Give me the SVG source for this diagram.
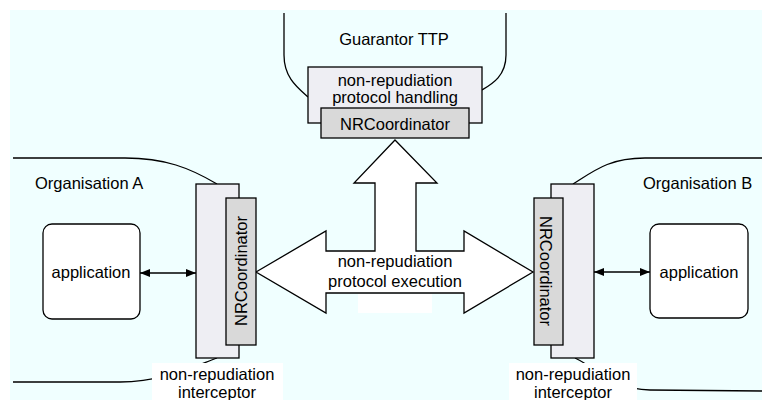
<svg xmlns="http://www.w3.org/2000/svg" width="762" height="400" viewBox="0 0 762 400">
  <defs>
    <style>
      text { font-family: "Liberation Sans", Arial, sans-serif; font-size: 16.5px; fill: #000; }
      .mid { text-anchor: middle; }
      .outline { fill: none; stroke: #000; stroke-width: 1.3; }
      .interceptor { fill: #eeeef3; stroke: #000; stroke-width: 1.3; }
      .coord { fill: #d9d9d9; stroke: #000; stroke-width: 1.3; }
      .app { fill: #fff; stroke: #000; stroke-width: 1.3; }
      .link { fill: none; stroke: #000; stroke-width: 1.3; marker-start: url(#head); marker-end: url(#head); }
      .label-bg { fill: #fff; stroke: none; }
    </style>
    <marker id="head" viewBox="0 0 10 8" refX="10" refY="4" markerWidth="10" markerHeight="8" markerUnits="userSpaceOnUse" orient="auto-start-reverse">
      <path d="M0,0 L10,4 L0,8 z" fill="#000"/>
    </marker>
  </defs>

  <!-- canvas -->
  <rect x="0" y="0" width="762" height="400" fill="#fff"/>
  <rect x="10" y="10" width="752" height="390" fill="#f0ffff"/>

  <!-- domain boundaries -->
  <g id="boundaries">
    <path class="outline" d="M284 13 L284 55 C284 78 298 88 308 97"/>
    <path class="outline" d="M506 13 L506 55 C506 76 492 84 482 90"/>
    <path class="outline" d="M13 158 L125 158 C165 158 190 168 217 184"/>
    <path class="outline" d="M13 382 L120 382 C160 382 190 368 217 358"/>
    <path class="outline" d="M573 184 C595 170 610 158 645 158 L762 158"/>
    <path class="outline" d="M575 358 C600 370 612 389 650 390 L762 391"/>
  </g>

  <!-- domain titles -->
  <text class="mid" x="394" y="45">Guarantor TTP</text>
  <text x="35" y="189">Organisation A</text>
  <text x="643" y="189">Organisation B</text>

  <!-- protocol execution arrow -->
  <g id="protocol-execution">
    <rect class="label-bg" x="358" y="294" width="74" height="19"/>
    <polygon fill="#fff" stroke="#000" stroke-width="1.3" points="256,272 326,231 326,251 375,251 375,183 354,183 395,140 437,183 416,183 416,251 464,251 464,231 533,272 464,313 464,293 326,293 326,313"/>
    <text class="mid" x="395" y="267">non-repudiation</text>
    <text class="mid" x="395" y="287">protocol execution</text>
  </g>

  <!-- TTP -->
  <g id="ttp-handling">
    <rect class="interceptor" x="308" y="67" width="174" height="56"/>
    <text class="mid" x="395" y="86">non-repudiation</text>
    <text class="mid" x="395" y="103">protocol handling</text>
  </g>
  <g id="ttp-coordinator">
    <rect class="coord" x="321" y="108" width="148" height="30"/>
    <text class="mid" x="395" y="130">NRCoordinator</text>
  </g>

  <!-- Organisation A -->
  <g id="interceptor-a">
    <rect class="interceptor" x="196" y="184" width="43" height="174"/>
    <rect class="label-bg" x="152" y="363" width="131" height="37"/>
    <text class="mid" x="217" y="380">non-repudiation</text>
    <text class="mid" x="217" y="398">interceptor</text>
  </g>
  <g id="coordinator-a">
    <rect class="coord" x="226" y="198" width="30" height="147"/>
    <text class="mid" transform="translate(247,271) rotate(-90)">NRCoordinator</text>
  </g>
  <g id="application-a">
    <rect class="app" x="43" y="224" width="97" height="95" rx="9"/>
    <text class="mid" x="91" y="278">application</text>
  </g>

  <!-- Organisation B -->
  <g id="interceptor-b">
    <rect class="interceptor" x="551" y="184" width="43" height="174"/>
    <rect class="label-bg" x="509" y="363" width="128" height="37"/>
    <text class="mid" x="573" y="380">non-repudiation</text>
    <text class="mid" x="573" y="398">interceptor</text>
  </g>
  <g id="coordinator-b">
    <rect class="coord" x="534" y="198" width="29" height="147"/>
    <text class="mid" transform="translate(540,271) rotate(90)">NRCoordinator</text>
  </g>
  <g id="application-b">
    <rect class="app" x="650" y="224" width="98" height="94" rx="9"/>
    <text class="mid" x="699" y="278">application</text>
  </g>

  <!-- local links -->
  <g id="connectors">
    <line class="link" x1="140" y1="273" x2="196" y2="273"/>
    <line class="link" x1="594" y1="272" x2="650" y2="272"/>
  </g>
</svg>
